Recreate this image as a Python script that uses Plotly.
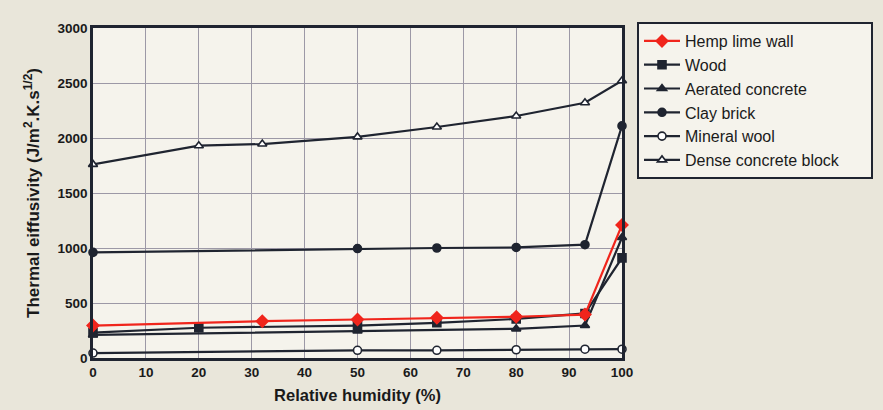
import plotly.graph_objects as go

humidity_hemp = [0, 32, 50, 65, 80, 93, 100]
hemp = [295, 335, 350, 365, 375, 395, 1210]
humidity_wood = [0, 20, 50, 65, 80, 93, 100]
wood = [230, 275, 295, 320, 355, 405, 910]
humidity_aer = [0, 50, 80, 93, 100]
aerated = [210, 245, 265, 295, 1095]
humidity_clay = [0, 50, 65, 80, 93, 100]
clay = [960, 995, 1000, 1005, 1030, 2110]
humidity_min = [0, 50, 65, 80, 93, 100]
mineral = [45, 70, 70, 75, 80, 80]
humidity_dense = [0, 20, 32, 50, 65, 80, 93, 100]
dense = [1760, 1930, 1945, 2010, 2100, 2200, 2320, 2520]

x_ticks = [0, 10, 20, 30, 40, 50, 60, 70, 80, 90, 100]
y_ticks = [0, 500, 1000, 1500, 2000, 2500, 3000]

dark = "#1f2430"
red = "#f0251c"
pad = "\u00a0" * 6

series = [
    ("Wood", humidity_wood, wood, "square", dark, dark, 2),
    ("Aerated concrete", humidity_aer, aerated, "triangle-up", dark, dark, 3),
    ("Clay brick", humidity_clay, clay, "circle", dark, dark, 4),
    ("Mineral wool", humidity_min, mineral, "circle", "white", dark, 5),
    ("Dense concrete block" + pad, humidity_dense, dense, "triangle-up", "white", dark, 6),
    ("Hemp lime wall", humidity_hemp, hemp, "diamond", red, red, 1),
]

fig = go.Figure()
for name, xs, ys, sym, fill, col, rank in series:
    fig.add_trace(go.Scatter(
        x=xs, y=ys, name=name, mode="lines+markers", legendrank=rank,
        line=dict(color=col, width=2.2),
        marker=dict(symbol=sym, size=8 if sym != "diamond" else 9, color=fill,
                    line=dict(color=col, width=1.6)),
        cliponaxis=False,
    ))

fig.update_layout(
    width=883, height=410,
    paper_bgcolor="#e9e6da",
    plot_bgcolor="#f5f3ec",
    margin=dict(l=93, r=261, t=28, b=52, autoexpand=False),
    font=dict(family="Liberation Sans, Arial, sans-serif", color="#1a1a1a"),
    showlegend=True,
    legend=dict(
        xref="container", yref="container",
        x=637 / 883, y=1 - 22 / 410, xanchor="left", yanchor="top",
        bgcolor="#f5f3ec", bordercolor=dark, borderwidth=2,
        font=dict(size=16, color="#1a1a1a"),
        tracegroupgap=0, itemwidth=36,
    ),
)
fig.update_xaxes(
    range=[0, 100], tickvals=x_ticks, showgrid=True, gridcolor="#9c98a6", gridwidth=1,
    showline=True, linecolor=dark, linewidth=2.5, mirror=True, zeroline=False,
    tickfont=dict(size=13.5, weight="bold"), ticks="", automargin=False,
    title=dict(text="Relative humidity (%)", font=dict(size=16.5, weight="bold"), standoff=11),
)
fig.update_yaxes(
    range=[0, 3000], tickvals=y_ticks, showgrid=True, gridcolor="#9c98a6", gridwidth=1,
    showline=True, linecolor=dark, linewidth=2.5, mirror=True, zeroline=False,
    tickfont=dict(size=13.5, weight="bold"), ticks="", automargin=False,
    title=dict(text="Thermal eiffusivity (J/m<sup>2</sup>.K.s<sup>1/2</sup>)",
               font=dict(size=17, weight="bold"), standoff=14),
)
fig.write_html("out.html")
